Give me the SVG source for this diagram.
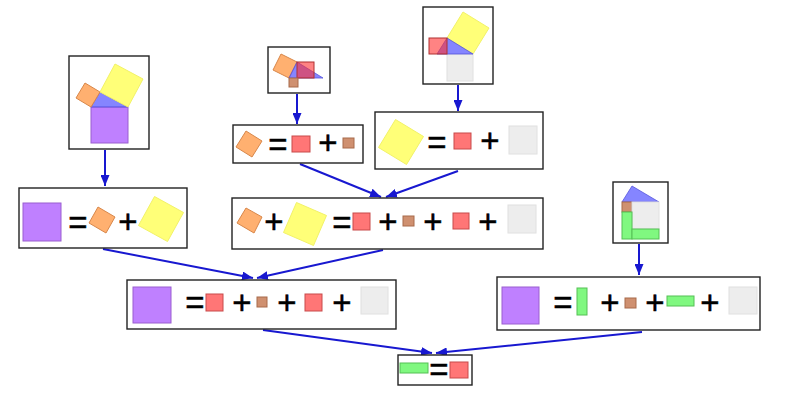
<svg xmlns="http://www.w3.org/2000/svg" width="800" height="402" viewBox="0 0 800 402">
<style>
.box{fill:#fff;stroke:#222;stroke-width:1.4}
.op{font-family:"Liberation Sans",Arial,sans-serif;font-size:33px;fill:#000;stroke:#000;stroke-width:0.5;text-anchor:middle}
.pu{fill:#bf80ff;stroke:#9a5fd0;stroke-width:1}
.or{fill:#ffb070;stroke:#d8874a;stroke-width:1}
.ye{fill:#ffff78;stroke:#f2f268;stroke-width:1}
.re{fill:#ff7676;stroke:#c84a4a;stroke-width:1}
.rt{fill:#ff3030;fill-opacity:0.6;stroke:#b03030;stroke-width:1}
.br{fill:#cf9070;stroke:#a86a4a;stroke-width:1}
.gr{fill:#ededed;stroke:#e0e0e0;stroke-width:1}
.gn{fill:#80f880;stroke:#55c055;stroke-width:1}
.bl{fill:#6666ff;fill-opacity:0.8;stroke:#5555dd;stroke-width:0.8}
.cn{stroke:#1818d0;stroke-width:2;fill:none;marker-end:url(#ah)}
</style>
<defs>
<marker id="ah" markerUnits="userSpaceOnUse" markerWidth="12" markerHeight="9" refX="11" refY="4.5" orient="auto">
<path d="M0,0 L11,4.5 L0,9 z" fill="#1818d0"/>
</marker>
</defs>
<rect width="800" height="402" fill="#fff"/>
<g id="connectors">
<line class="cn" x1="105" y1="150" x2="105" y2="186"/>
<line class="cn" x1="297" y1="94" x2="297" y2="124"/>
<line class="cn" x1="458" y1="85" x2="458" y2="111"/>
<line class="cn" x1="300" y1="164" x2="381" y2="197"/>
<line class="cn" x1="458" y1="171" x2="386" y2="197"/>
<line class="cn" x1="103" y1="249" x2="253" y2="278"/>
<line class="cn" x1="383" y1="250" x2="257" y2="278"/>
<line class="cn" x1="639" y1="244" x2="639" y2="275"/>
<line class="cn" x1="263" y1="330" x2="432" y2="353"/>
<line class="cn" x1="642" y1="332" x2="436" y2="353"/>
</g>
<g id="n1">
<rect class="box" x="69" y="56" width="80" height="93"/>
<rect class="pu" x="91" y="107" width="37" height="36"/>
<polygon class="bl" points="91,107 100,92 128,107"/>
<polygon class="or" points="91,107 100,92 85,83 76,98"/>
<polygon class="ye" points="100,92 128,107 143,79 115,64"/>
</g>
<g id="n2">
<rect class="box" x="268" y="47" width="62" height="46"/>
<polygon class="or" points="289,78 297,62 281,54 273,70"/>
<polygon class="bl" points="289,78 297,62 323,78"/>
<rect class="rt" x="297" y="62" width="17" height="16"/>
<rect class="br" x="289" y="78" width="9" height="9"/>
</g>
<g id="n3">
<rect class="box" x="423" y="7" width="70" height="77"/>
<polygon class="ye" points="447,38 473,54 489,28 463,12"/>
<rect class="gr" x="447" y="54" width="26" height="27"/>
<polygon class="bl" points="437,54 447,38 473,54"/>
<rect class="rt" x="429" y="38" width="18" height="16"/>
</g>
<g id="n4">
<rect class="box" x="375" y="112" width="168" height="57"/>
<polygon class="ye" points="395.5,119.5 423.5,136.5 406.5,164.5 378.5,147.5"/>
<text class="op" x="437" y="154">=</text>
<rect class="re" x="454" y="133" width="17" height="16"/>
<text class="op" x="490" y="152">+</text>
<rect class="gr" x="509" y="126" width="28" height="28"/>
</g>
<g id="n5">
<rect class="box" x="233" y="125" width="130" height="38"/>
<polygon class="or" points="236,147 246,131 262,141 252,157"/>
<text class="op" x="278" y="156">=</text>
<rect class="re" x="292" y="136" width="18" height="16"/>
<text class="op" x="328" y="154">+</text>
<rect class="br" x="343" y="138" width="11" height="10"/>
</g>
<g id="n6">
<rect class="box" x="19" y="188" width="168" height="60"/>
<rect class="pu" x="23" y="203" width="38" height="38"/>
<text class="op" x="78" y="234">=</text>
<polygon class="or" points="89,223 98,207 115,217 106,233"/>
<text class="op" x="128" y="233">+</text>
<polygon class="ye" points="154.5,196.5 183.5,212.5 167.5,241.5 138.5,225.5"/>
</g>
<g id="n7">
<rect class="box" x="232" y="198" width="311" height="51"/>
<polygon class="or" points="237,223 246,208 262,217 254,233"/>
<text class="op" x="274" y="233">+</text>
<polygon class="ye" points="296.5,202.5 326.5,215.5 313.5,245.5 283.5,232.5"/>
<text class="op" x="342" y="234">=</text>
<rect class="re" x="353" y="213" width="17" height="17"/>
<text class="op" x="388" y="233">+</text>
<rect class="br" x="403" y="216" width="11" height="10"/>
<text class="op" x="433" y="233">+</text>
<rect class="re" x="453" y="213" width="16" height="16"/>
<text class="op" x="488" y="233">+</text>
<rect class="gr" x="508" y="205" width="28" height="28"/>
</g>
<g id="n8">
<rect class="box" x="613" y="182" width="55" height="61"/>
<polygon class="bl" points="622,202 632,186 659,202"/>
<rect class="br" x="622" y="202" width="10" height="10"/>
<rect class="gr" x="632" y="202" width="27" height="27"/>
<rect class="gn" x="622" y="212" width="10" height="27"/>
<rect class="gn" x="632" y="229" width="27" height="10"/>
</g>
<g id="n9">
<rect class="box" x="127" y="280" width="269" height="49"/>
<rect class="pu" x="133" y="287" width="38" height="36"/>
<text class="op" x="195" y="314">=</text>
<rect class="re" x="206" y="294" width="17" height="17"/>
<text class="op" x="242" y="314">+</text>
<rect class="br" x="257" y="297" width="10" height="10"/>
<text class="op" x="287" y="314">+</text>
<rect class="re" x="305" y="294" width="17" height="17"/>
<text class="op" x="342" y="314">+</text>
<rect class="gr" x="361" y="287" width="27" height="27"/>
</g>
<g id="n10">
<rect class="box" x="497" y="277" width="263" height="53"/>
<rect class="pu" x="502" y="287" width="37" height="37"/>
<text class="op" x="563" y="314">=</text>
<rect class="gn" x="577" y="288" width="10" height="27"/>
<text class="op" x="610" y="314">+</text>
<rect class="br" x="625" y="298" width="11" height="10"/>
<text class="op" x="655" y="314">+</text>
<rect class="gn" x="667" y="296" width="27" height="10"/>
<text class="op" x="710" y="314">+</text>
<rect class="gr" x="729" y="287" width="28" height="27"/>
</g>
<g id="n11">
<rect class="box" x="398" y="355" width="74" height="30"/>
<rect class="gn" x="400" y="363" width="28" height="10"/>
<text class="op" x="439" y="381">=</text>
<rect class="re" x="450" y="362" width="18" height="16"/>
</g>
</svg>
